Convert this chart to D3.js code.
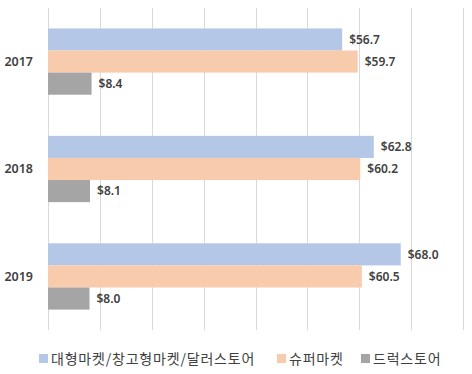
<!DOCTYPE html>
<html>
<head>
<meta charset="utf-8">
<script src="https://cdn.jsdelivr.net/npm/d3@7"></script>
<style>
  html, body { margin: 0; padding: 0; background: #fff; }
  svg { display: block; }
</style>
</head>
<body>
<svg id="chart" width="472" height="374"></svg>
<script>
const years = ["2017", "2018", "2019"];
const seriesNames = ["대형마켓/창고형마켓/달러스토어", "슈퍼마켓", "드럭스토어"];
const bigMarket = [56.7, 62.8, 68.0];
const superMarket = [59.7, 60.2, 60.5];
const drugStore = [8.4, 8.1, 8.0];
const xTicks = [0, 10, 20, 30, 40, 50, 60, 70, 80];
const colors = ["#b4c7e7", "#f8cbad", "#a5a5a5"];

const seriesValues = [bigMarket, superMarket, drugStore];
const rows = years.map((y, i) => ({ year: y, values: seriesValues.map((s, k) => ({ key: k, value: s[i] })) }));

const svg = d3.select("#chart");
const margin = { left: 48, right: 9, top: 8, bottom: 44 };
const W = 472, H = 374;

const x = d3.scaleLinear().domain([0, 80]).range([margin.left, W - margin.right]);
const y0 = d3.scaleBand().domain(years).range([margin.top, H - margin.bottom]).paddingInner(0.383).paddingOuter(0.19);
const y1 = d3.scaleBand().domain(d3.range(seriesNames.length)).range([0, y0.bandwidth()]).padding(0);

// gridlines
svg.append("g")
  .selectAll("line").data(xTicks).join("line")
  .attr("x1", d => Math.round(x(d)) + 0.5).attr("x2", d => Math.round(x(d)) + 0.5)
  .attr("y1", margin.top).attr("y2", H - margin.bottom)
  .attr("stroke", "#d9d9d9").attr("stroke-width", 1);

const font = "'Noto Sans', 'Noto Sans CJK KR', sans-serif";

// bars
const g = svg.append("g").selectAll("g").data(rows).join("g")
  .attr("transform", d => `translate(0,${y0(d.year)})`);

g.selectAll("rect").data(d => d.values).join("rect")
  .attr("x", x(0))
  .attr("y", d => y1(d.key))
  .attr("height", y1.bandwidth())
  .attr("width", d => x(d.value) - x(0))
  .attr("fill", d => colors[d.key]);

g.selectAll("text").data(d => d.values).join("text")
  .attr("x", d => x(d.value) + 7)
  .attr("y", d => y1(d.key) + y1.bandwidth() / 2)
  .attr("dy", "0.35em")
  .attr("font-family", font)
  .attr("font-size", 12)
  .attr("font-weight", 600)
  .attr("fill", "#404040")
  .text(d => "$" + d.value.toFixed(1));

// y axis labels
svg.append("g").selectAll("text").data(years).join("text")
  .attr("x", 33)
  .attr("y", d => y0(d) + y0.bandwidth() / 2)
  .attr("dy", "0.35em")
  .attr("text-anchor", "end")
  .attr("font-family", font)
  .attr("font-size", 12.5)
  .attr("font-weight", 600)
  .attr("fill", "#404040")
  .text(d => d);

// legend
const legendX = [39, 277, 361];
const lg = svg.append("g").selectAll("g").data(seriesNames).join("g")
  .attr("transform", (d, i) => `translate(${legendX[i]},354)`);
lg.append("rect").attr("width", 9).attr("height", 9).attr("fill", (d, i) => colors[i]);
lg.append("text")
  .attr("x", 12).attr("y", 4.5).attr("dy", "0.38em")
  .attr("font-family", "'Noto Sans CJK KR', sans-serif")
  .attr("font-size", 14)
  .attr("letter-spacing", 0.8)
  .attr("fill", "#404040")
  .text(d => d);
</script>
</body>
</html>
